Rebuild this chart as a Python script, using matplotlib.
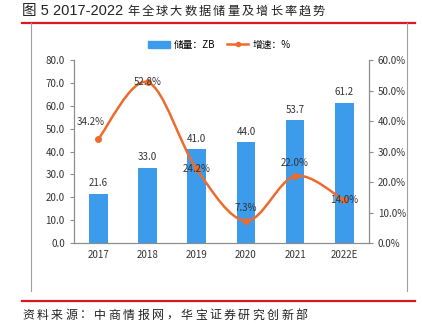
import matplotlib
matplotlib.use("Agg")
import matplotlib.pyplot as plt
from matplotlib.lines import Line2D
from matplotlib.path import Path
from matplotlib.patches import PathPatch
import numpy as np

plt.rcParams["font.family"] = ["Noto Sans CJK SC", "DejaVu Sans"]

years = ["2017", "2018", "2019", "2020", "2021", "2022E"]
storage_zb = [21.6, 33.0, 41.0, 44.0, 53.7, 61.2]
growth_pct = [34.2, 52.8, 24.2, 7.3, 22.0, 14.0]

BAR_COLOR = "#3C9BEB"
LINE_COLOR = "#EC6B2D"
RED = "#D9181F"
TXT = "#333333"

W, H = 422, 325
fig = plt.figure(figsize=(W / 100, H / 100), dpi=100)
ax = fig.add_axes([0.175, 0.252, 0.699, 0.563])
ax2 = ax.twinx()


def spaced_text(x_px, y_px, s, advance_px, **kw):
    # place characters one by one with a fixed advance (pixel units)
    for i, ch in enumerate(s):
        fig.text((x_px + i * advance_px) / W, 1 - y_px / H, ch, ha="left", va="center", **kw)


x = np.arange(len(years))
ax.bar(x, storage_zb, width=0.38, color=BAR_COLOR, zorder=2)
for xi, v in zip(x, storage_zb):
    ax.text(xi, v + 2.5, f"{v:.1f}", ha="center", va="bottom", fontsize=7, color=TXT)

# smoothed growth curve drawn as cubic bezier segments through the points
pts = np.column_stack([x, growth_pct]).astype(float)
verts = [tuple(pts[0])]
codes = [Path.MOVETO]
for i in range(len(pts) - 1):
    p0 = pts[i - 1] if i > 0 else pts[i]
    p1, p2 = pts[i], pts[i + 1]
    p3 = pts[i + 2] if i + 2 < len(pts) else pts[i + 1]
    c1 = p1 + (p2 - p0) / 6
    c2 = p2 - (p3 - p1) / 6
    verts += [tuple(c1), tuple(c2), tuple(p2)]
    codes += [Path.CURVE4] * 3
ax2.add_patch(PathPatch(Path(verts, codes), facecolor="none", edgecolor=LINE_COLOR,
                        lw=1.8, zorder=3))
ax2.plot(x, growth_pct, "o", color=LINE_COLOR, markersize=4, zorder=4)

pct_offsets = [(-0.15, 5.5), (0.0, 0.0), (0.0, 0.0), (0.0, 4.2), (0.0, 4.2), (0.0, 0.0)]
for xi, v, (dx, dy) in zip(x, growth_pct, pct_offsets):
    ax2.text(xi + dx, v + dy, f"{v:.1f}%", ha="center", va="center", fontsize=7,
             color=TXT, zorder=5)

ax.set_xlim(-0.5, 5.5)
ax.set_ylim(0, 80)
ax2.set_ylim(0, 60)
ax.set_xticks(x)
ax.set_xticklabels(years)
ax.set_yticks(np.arange(0, 81, 10))
ax.set_yticklabels([f"{v:.1f}" for v in np.arange(0, 81, 10)])
ax2.set_yticks(np.arange(0, 61, 10))
ax2.set_yticklabels([f"{v:.1f}%" for v in np.arange(0, 61, 10)])

for a in (ax, ax2):
    a.spines["top"].set_visible(False)
    for s in ("left", "right", "bottom"):
        a.spines[s].set_color("#8C8C8C")
        a.spines[s].set_linewidth(0.8)
    a.tick_params(labelsize=7, colors=TXT, length=3, width=0.8)
ax.tick_params(axis="y", color="#8C8C8C")
ax2.tick_params(axis="y", color="#8C8C8C")
ax.tick_params(axis="x", length=0, pad=5)

handles = [
    plt.Rectangle((0, 0), 1, 1, color=BAR_COLOR),
    Line2D([0], [0], color=LINE_COLOR, lw=1.8, marker="o", markersize=3),
]
fig.legend(handles, ["储量：ZB", "增速：%"], loc="center", bbox_to_anchor=(0.52, 0.862),
           ncol=2, frameon=False, fontsize=7, handlelength=2.2, columnspacing=1.2,
           handletextpad=0.4)

# title, rules and chart frame
fig.text(22 / W, 1 - 11 / H, "图 5 2017-2022", fontsize=10.5, color="#222222",
         family=["Liberation Sans", "Noto Sans CJK SC"], va="center", ha="left")
spaced_text(127, 11, "年全球大数据储量及增长率趋势", 14.3, fontsize=8.8, color="#222222")
fig.add_artist(Line2D([0.052, 0.983], [0.928, 0.928], color=RED, lw=1.6))
fig.add_artist(Line2D([0.073, 0.073], [0.928, 0.105], color="#A0A0A0", lw=0.8))
fig.add_artist(Line2D([0.965, 0.965], [0.928, 0.105], color="#A0A0A0", lw=0.8))
fig.add_artist(Line2D([0.052, 0.983], [0.074, 0.074], color=RED, lw=1.6))
spaced_text(22, 315, "资料来源：中商情报网，华宝证券研究创新部", 14.4, fontsize=8.6,
            color="#222222")

fig.savefig("out.png", dpi=100)
